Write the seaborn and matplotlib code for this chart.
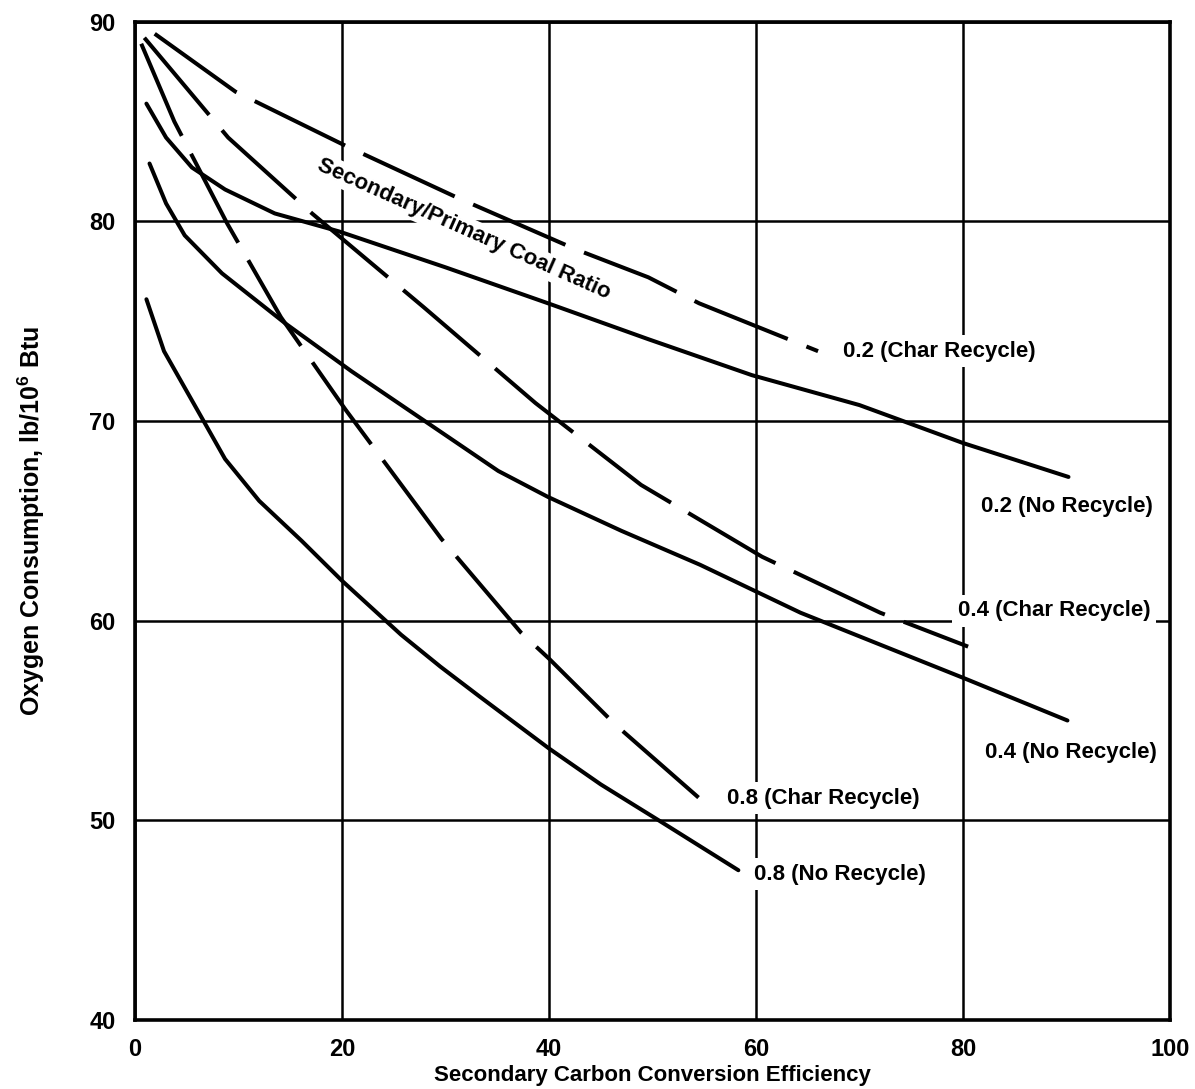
import matplotlib
matplotlib.use("Agg")
import matplotlib.pyplot as plt
import numpy as np
import pandas as pd
import seaborn as sns

# Secondary/primary coal ratio curves: oxygen consumption vs. secondary carbon conversion
x_02_char = [1.9, 9.7, 20.3, 31.1, 42.6, 49.6, 54.5, 66.0]
y_02_char = [89.4, 86.5, 83.8, 81.2, 78.6, 77.2, 75.9, 73.5]

x_02_no = [1.1, 3.0, 5.5, 8.7, 13.5, 19.7, 30.0, 39.9, 49.6, 59.6, 70.0, 80.0, 90.2]
y_02_no = [85.9, 84.2, 82.7, 81.6, 80.4, 79.5, 77.7, 75.9, 74.1, 72.3, 70.8, 68.9, 67.2]

x_04_char = [0.9, 9.0, 17.1, 27.9, 38.7, 48.9, 60.6, 72.0, 80.5]
y_04_char = [89.2, 84.2, 80.4, 75.7, 70.9, 66.8, 63.2, 60.4, 58.7]

x_04_no = [1.4, 3.0, 4.8, 8.4, 14.5, 20.9, 28.0, 35.1, 39.9, 47.0, 54.6, 64.3, 72.0, 80.2, 90.1]
y_04_no = [82.9, 80.9, 79.3, 77.4, 74.9, 72.5, 70.0, 67.5, 66.2, 64.5, 62.8, 60.4, 58.8, 57.1, 55.0]

x_08_char = [0.6, 3.8, 8.9, 14.1, 20.3, 29.6, 37.3, 40.0, 46.4, 55.2]
y_08_char = [88.9, 85.0, 79.9, 75.2, 70.6, 64.1, 59.4, 58.1, 54.8, 50.8]

x_08_no = [1.1, 2.8, 6.3, 8.7, 12.0, 16.1, 20.0, 25.7, 29.5, 33.3, 40.0, 45.0, 50.6, 58.3]
y_08_no = [76.1, 73.5, 70.3, 68.1, 66.0, 64.0, 62.0, 59.3, 57.7, 56.2, 53.6, 51.8, 50.0, 47.5]

series_names = ["0.2 (Char Recycle)", "0.2 (No Recycle)",
                "0.4 (Char Recycle)", "0.4 (No Recycle)",
                "0.8 (Char Recycle)", "0.8 (No Recycle)"]
series_x = [x_02_char, x_02_no, x_04_char, x_04_no, x_08_char, x_08_no]
series_y = [y_02_char, y_02_no, y_04_char, y_04_no, y_08_char, y_08_no]

# Label anchor points (left edge, vertical centre) in data units
label_x = [68.4, 81.7, 79.5, 82.1, 57.2, 59.8]
label_y = [73.5, 65.7, 60.5, 53.4, 51.1, 47.3]

x_ticks = [0, 20, 40, 60, 80, 100]
y_ticks = [40, 50, 60, 70, 80, 90]

rows = []
for name, xs, ys in zip(series_names, series_x, series_y):
    mode = "Char Recycle" if "Char" in name else "No Recycle"
    for xv, yv in zip(xs, ys):
        rows.append({"eff": xv, "o2": yv, "curve": name, "mode": mode})
df = pd.DataFrame(rows)

sns.set_theme(style="white")
plt.rcParams["font.family"] = ["Liberation Sans", "DejaVu Sans"]
plt.rcParams["mathtext.fontset"] = "custom"
plt.rcParams["mathtext.rm"] = "Liberation Sans:bold"
plt.rcParams["mathtext.bf"] = "Liberation Sans:bold"
plt.rcParams["text.color"] = "black"
plt.rcParams["axes.labelcolor"] = "black"
plt.rcParams["xtick.color"] = "black"
plt.rcParams["ytick.color"] = "black"

fig = plt.figure(figsize=(11.95, 10.89), dpi=100)
ax = fig.add_axes([0.113, 0.0634, 0.866, 0.9166])

sns.lineplot(data=df, x="eff", y="o2", units="curve", style="mode",
             dashes={"Char Recycle": (25, 5), "No Recycle": ""},
             estimator=None, sort=False, color="black", linewidth=2.9,
             legend=False, ax=ax, zorder=3)

ax.set_xlim(0, 100)
ax.set_ylim(40, 90)
ax.set_xticks(x_ticks)
ax.set_yticks(y_ticks)
ax.set_xticklabels([str(v) for v in x_ticks])
ax.set_yticklabels([str(v) for v in y_ticks])
ax.tick_params(axis="both", length=0, labelsize=17, colors="black")
ax.tick_params(axis="x", pad=13)
ax.tick_params(axis="y", pad=14)
for lbl in ax.get_xticklabels() + ax.get_yticklabels():
    lbl.set_fontweight("bold")

ax.grid(True, color="black", linewidth=1.8)
ax.set_axisbelow(True)
for sp in ax.spines.values():
    sp.set_color("black")
    sp.set_linewidth(2.6)
    sp.set_zorder(4)

ax.set_xlabel("Secondary Carbon Conversion Efficiency", fontsize=16,
              fontweight="bold", labelpad=3)
ax.set_ylabel(r"Oxygen Consumption, lb/10$^{\mathbf{6}}$ Btu", fontsize=18,
              fontweight="bold")
ax.yaxis.set_label_coords(-0.085, 0.5)

box = dict(facecolor="white", edgecolor="none", pad=4)
for name, lx, ly in zip(series_names, label_x, label_y):
    ax.text(lx, ly, name, fontsize=16, fontweight="bold", ha="left",
            va="center", bbox=box, zorder=2)

ax.text(31.8, 79.6, "Secondary/Primary Coal Ratio", fontsize=16,
        fontweight="bold", rotation=-24, rotation_mode="anchor",
        ha="center", va="center", bbox=dict(facecolor="white",
                                             edgecolor="none", pad=2),
        zorder=2)

fig.savefig("out.png", dpi=100, facecolor="white")
